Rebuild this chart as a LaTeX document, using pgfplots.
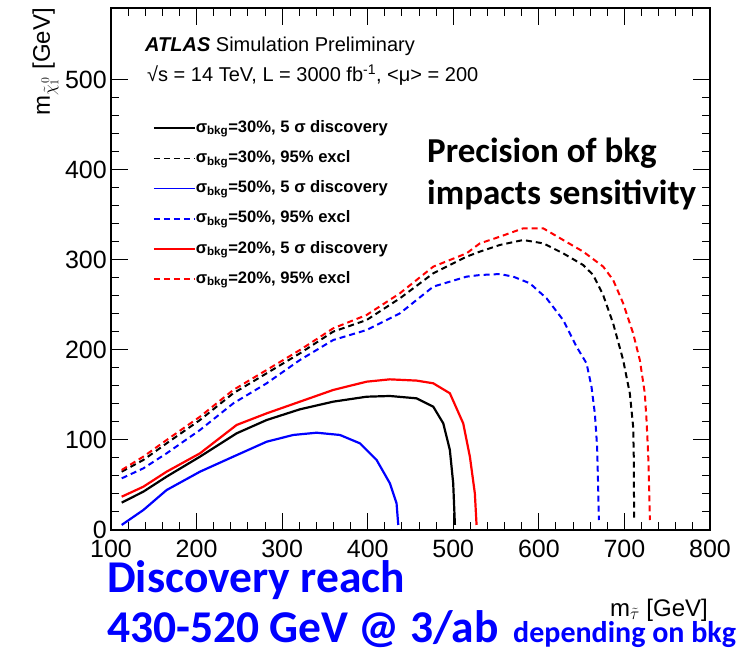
\documentclass[border=0pt]{standalone}
\usepackage{pgfplots}
\pgfplotsset{compat=1.18}
\usepackage{fontspec}
\setmainfont{Liberation Sans}
\newfontfamily\calibri{Carlito}
\definecolor{rblue}{RGB}{0,0,255}
\definecolor{rred}{RGB}{255,0,0}
\definecolor{tblue}{RGB}{0,0,255}
\begin{document}
\begin{tikzpicture}
\path[use as bounding box] (0,0) rectangle (744pt,653pt);
\begin{axis}[
  at={(111pt,123pt)}, anchor=south west,
  scale only axis, width=599pt, height=522pt,
  xmin=100, xmax=800, ymin=0, ymax=580,
  xtick={100,200,...,800}, ytick={0,100,...,500},
  minor x tick num=4, minor y tick num=4,
  tick align=inside, major tick length=17pt, minor tick length=8pt,
  every tick/.style={black, line width=1pt},
  axis line style={line width=1.2pt},
  /pgf/number format/assume math mode=true,
  tick label style={font=\fontsize{25}{30}\selectfont, inner sep=0pt},
  xticklabel shift=10pt, yticklabel shift=4pt,
  xlabel={m$_{\tilde{\tau}}$ [GeV]},
  ylabel={m$_{\tilde{\chi}_{1}^{\,0}}$ [GeV]},
  label style={font=\fontsize{24}{28}\selectfont, inner sep=0pt},
  xlabel style={at={(axis description cs:0.9967,-0.165)}, anchor=base east},
  ylabel style={at={(axis description cs:-0.102,1)}, anchor=base east},
  legend style={at={(axis description cs:0.0701,0.7854)}, anchor=north west,
    draw=none, fill=none, inner sep=0pt, row sep=14.2pt,
    font=\fontsize{16.6}{19}\selectfont\bfseries,
    nodes={inner sep=0pt, text height=12pt, text depth=4pt},
    cells={anchor=west},
    /tikz/every even column/.append style={column sep=10pt}},
  legend image code/.code={\draw[#1, line width=1.6pt] (0pt,0pt) -- (41pt,0pt);},
  clip=false,
]
\addplot[black, line width=2.2pt, line join=round] coordinates {
(112.5,30.4)(137.8,42.6)(165.0,59.3)(204.0,81.5)(246.8,107.4)(281.9,122.2)(320.8,134.1)(359.7,142.6)(398.7,148.1)(425.9,148.9)(457.1,146.3)(476.6,137.0)(488.3,118.5)(496.0,88.9)(499.9,51.9)(501.9,5.6)};
\addlegendentry{σ\textsubscript{bkg}=30\%, 5 σ discovery}
\addplot[black, line width=2pt, dash pattern=on 6pt off 4pt, line join=round] coordinates {
(112.5,64.8)(137.8,77.8)(165.0,96.3)(204.0,122.2)(242.9,151.9)(281.9,174.1)(320.8,196.3)(359.7,220.4)(398.7,233.3)(437.6,257.4)(476.6,285.2)(515.5,303.7)(531.1,309.3)(554.4,316.7)(581.7,322.2)(605.1,318.5)(628.4,307.4)(651.8,294.4)(663.5,283.3)(675.1,261.1)(686.8,229.6)(698.5,188.9)(706.3,151.9)(710.2,114.8)(711.0,77.8)(711.3,11.1)};
\addlegendentry{σ\textsubscript{bkg}=30\%, 95\% excl}
\addplot[rblue, line width=2.2pt, line join=round] coordinates {
(112.5,5.6)(137.8,22.2)(165.0,44.4)(204.0,64.8)(242.9,81.5)(281.9,98.1)(313.0,105.6)(340.3,108.1)(367.5,105.6)(390.9,96.3)(410.4,77.8)(425.9,51.9)(433.7,29.6)(435.7,5.6)};
\addlegendentry{σ\textsubscript{bkg}=50\%, 5 σ discovery}
\addplot[rblue, line width=2pt, dash pattern=on 6pt off 4pt, line join=round] coordinates {
(112.5,57.4)(137.8,68.5)(165.0,85.2)(204.0,111.1)(242.9,140.7)(281.9,163.0)(320.8,188.9)(359.7,211.1)(398.7,222.2)(437.6,240.7)(476.6,270.4)(515.5,281.5)(531.1,283.3)(554.4,284.4)(570.0,281.5)(589.5,274.1)(609.0,257.4)(628.4,233.3)(644.0,203.7)(655.7,185.2)(661.5,159.3)(665.4,129.6)(668.1,92.6)(669.3,48.1)(670.1,11.1)};
\addlegendentry{σ\textsubscript{bkg}=50\%, 95\% excl}
\addplot[rred, line width=2.2pt, line join=round] coordinates {
(112.5,37.0)(137.8,48.1)(165.0,64.8)(204.0,85.2)(246.8,116.7)(281.9,129.6)(320.8,142.6)(359.7,155.6)(398.7,164.8)(425.9,167.4)(457.1,166.0)(476.6,163.0)(496.0,151.9)(511.6,118.5)(519.4,81.5)(525.2,40.7)(527.2,5.6)};
\addlegendentry{σ\textsubscript{bkg}=20\%, 5 σ discovery}
\addplot[rred, line width=2pt, dash pattern=on 6pt off 4pt, line join=round] coordinates {
(112.5,66.7)(137.8,81.5)(165.0,100.0)(204.0,125.9)(242.9,155.6)(281.9,177.8)(320.8,200.0)(359.7,224.1)(398.7,238.9)(437.6,263.0)(476.6,292.6)(515.5,307.4)(531.1,318.5)(554.4,325.9)(581.7,335.2)(605.1,335.2)(628.4,322.2)(651.8,309.3)(675.2,292.6)(686.8,277.8)(698.5,251.9)(710.2,218.5)(718.0,188.9)(723.8,151.9)(725.8,122.2)(727.7,85.2)(728.9,48.1)(729.7,11.1)};
\addlegendentry{σ\textsubscript{bkg}=20\%, 95\% excl}
\end{axis}
\node[anchor=base west, inner sep=0pt, font=\fontsize{20}{24}\selectfont] at (145pt,601.3pt) {\textbf{\textit{ATLAS}} Simulation Preliminary};
\node[anchor=base west, inner sep=0pt, font=\fontsize{20}{24}\selectfont] at (147pt,571.3pt) {√s = 14 TeV, L = 3000 fb\textsuperscript{-1}, <μ> = 200};
\node[anchor=base west, inner sep=0pt, font=\calibri\bfseries\fontsize{35}{43}\selectfont] at (427pt,490pt) {Precision of bkg};
\node[anchor=base west, inner sep=0pt, font=\calibri\bfseries\fontsize{35}{43}\selectfont] at (427pt,448pt) {impacts sensitivity};
\node[anchor=base west, inner sep=0pt, text=tblue, font=\calibri\bfseries\fontsize{45.5}{50}\selectfont] at (107pt,60pt) {Discovery reach};
\node[anchor=base west, inner sep=0pt, text=tblue, font=\calibri\bfseries\fontsize{45.5}{50}\selectfont] at (107pt,10pt) {430-520 GeV @ 3/ab};
\node[anchor=base west, inner sep=0pt, text=tblue, font=\calibri\bfseries\fontsize{30}{34}\selectfont] at (513pt,10pt) {depending on bkg};
\end{tikzpicture}
\end{document}
